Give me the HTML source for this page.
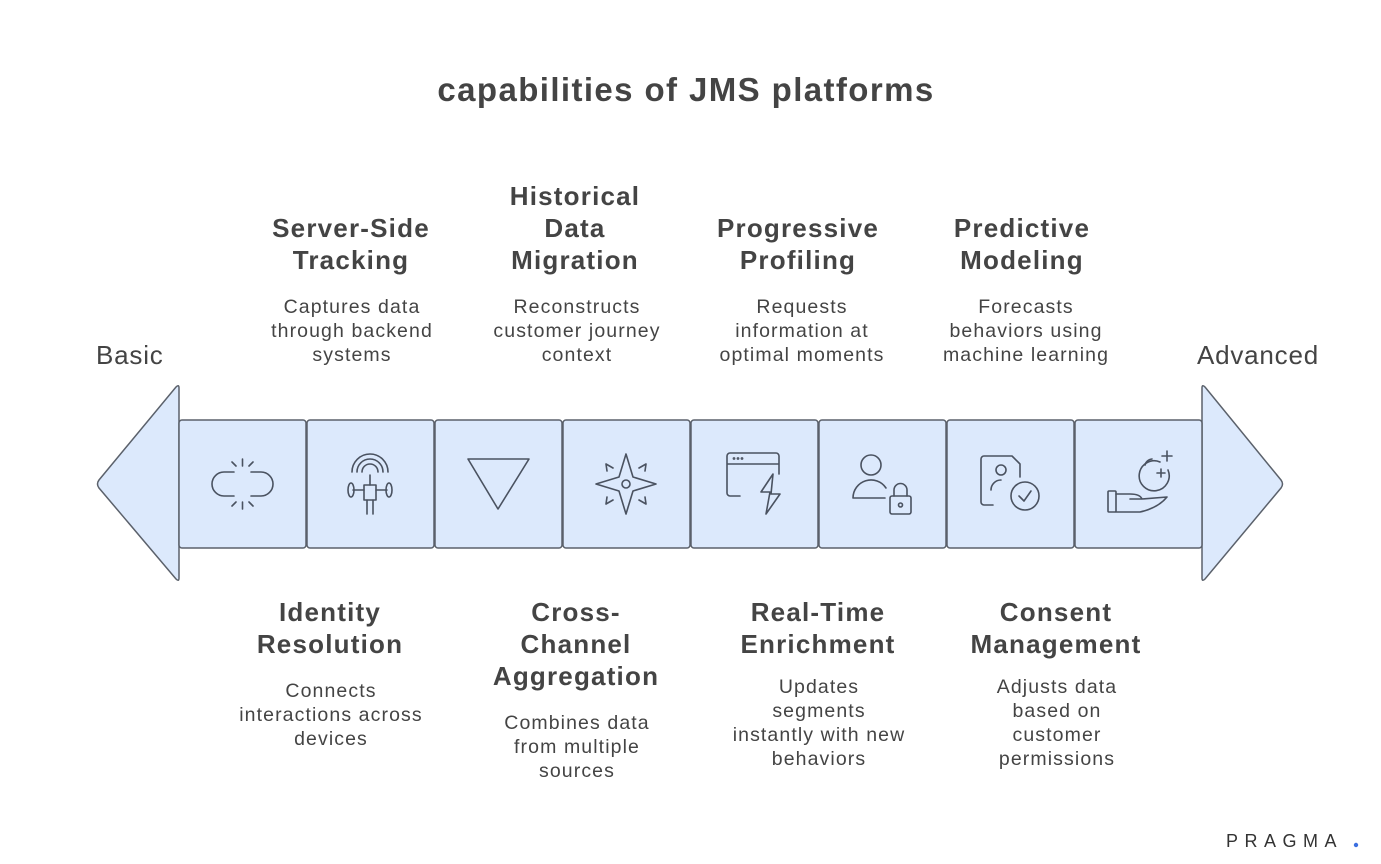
<!DOCTYPE html>
<html><head><meta charset="utf-8"><style>
html,body{margin:0;padding:0;background:#fff;}
svg{display:block;}
text{font-family:"Liberation Sans",sans-serif;fill:#444;}
.h{font-weight:bold;font-size:26px;letter-spacing:1.2px;text-anchor:middle;}
.d{font-size:19.5px;letter-spacing:1.1px;text-anchor:middle;}
.ic{fill:none;stroke:#4a5260;stroke-width:1.6;stroke-linecap:round;stroke-linejoin:round;}
</style></head><body>
<svg width="1381" height="864" viewBox="0 0 1381 864">
<text x="686" y="101" style="font-weight:bold;font-size:33px;letter-spacing:1.4px;text-anchor:middle;">capabilities of JMS platforms</text>
<text x="96" y="364" style="font-size:26px;letter-spacing:0.8px;">Basic</text>
<text x="1319" y="364" style="font-size:26px;letter-spacing:0.8px;text-anchor:end;">Advanced</text>

<path d="M179,388 Q179,384 176,387 L99,480 Q96,484 99,488 L176,579 Q179,582 179,578 Z" fill="#dce9fc" stroke="#5b616b" stroke-width="1.5"/>
<path d="M1202,388 Q1202,384 1205,387 L1281,480 Q1284,484 1281,488 L1205,579 Q1202,582 1202,578 Z" fill="#dce9fc" stroke="#5b616b" stroke-width="1.5"/>
<g fill="#dce9fc" stroke="#5b616b" stroke-width="1.5">
<rect x="179" y="420" width="127" height="128" rx="3"/>
<rect x="307" y="420" width="127" height="128" rx="3"/>
<rect x="435" y="420" width="127" height="128" rx="3"/>
<rect x="563" y="420" width="127" height="128" rx="3"/>
<rect x="691" y="420" width="127" height="128" rx="3"/>
<rect x="819" y="420" width="127" height="128" rx="3"/>
<rect x="947" y="420" width="127" height="128" rx="3"/>
<rect x="1075" y="420" width="127" height="128" rx="3"/>
</g>

<g class="ic">
<path d="M234,472 H224 A12,12 0 0 0 224,496 H234 M251,472 H261 A12,12 0 0 1 261,496 H251"/>
<path d="M242.5,459 V466 M232,462 L236,466 M253,462 L249,466 M242.5,502 V509 M232,506 L236,502 M253,506 L249,502"/>
<path d="M352,472 A18,18 0 0 1 388,472 M357,472 A13,13 0 0 1 383,472 M362,472 A8,8 0 0 1 378,472 M370,475 V485"/>
<rect x="364" y="485" width="12" height="15"/>
<path d="M364,490 H353 M376,490 H387 M367,500 V514 M373,500 V514"/>
<ellipse cx="351" cy="490" rx="3" ry="7"/><ellipse cx="389" cy="490" rx="3" ry="7"/>
<path d="M468,459 H529 L498,509 Z"/>
<path d="M626,454 L633,477 L656,484 L633,491 L626,514 L619,491 L596,484 L619,477 Z"/>
<circle cx="626" cy="484" r="4"/>
<path d="M606,464 L613,468 M606,464 L607,471 M646,464 L639,468 M646,464 L645,471 M606,504 L613,500 M606,504 L607,497 M646,504 L639,500 M646,504 L645,497"/>
<path d="M740,496 H730 A3,3 0 0 1 727,493 V456 A3,3 0 0 1 730,453 H776 A3,3 0 0 1 779,456 V474 M727,464 H779"/>
<path d="M773,474 L761,492 H770 L766,514 L780,494 H771 Z"/>
<circle cx="734" cy="458.5" r="0.6"/><circle cx="738" cy="458.5" r="0.6"/><circle cx="742" cy="458.5" r="0.6"/>
<circle cx="871" cy="465" r="10"/>
<path d="M853,498 A18,18 0 0 1 886,488 M853,498 H885"/>
<rect x="890" y="496" width="21" height="18" rx="2"/>
<path d="M894,496 V490 A6.5,6.5 0 0 1 907,490 V496"/><circle cx="900.5" cy="505" r="2"/>
<path d="M993,505 H984 A3,3 0 0 1 981,502 V459 A3,3 0 0 1 984,456 H1012 L1020,464 V477"/>
<circle cx="1001" cy="470" r="5"/><path d="M991,490 A10,10 0 0 1 1001,480"/>
<circle cx="1025" cy="496" r="14"/><path d="M1019,496 L1024,501 L1031,491"/>
<path d="M1160,462 A15,15 0 1 0 1168,470 M1145,465 A8,8 0 0 1 1152,459 M1157,473 H1165 M1161,469 V477 M1162,456 H1172 M1167,451 V461"/>
<rect x="1108" y="491" width="8" height="21" rx="1"/>
<path d="M1116,494 H1130 Q1140,494 1142,499 H1130 M1142,499 L1167,497 Q1158,508 1140,512 H1116"/>
</g>

<text class="h" x="351" y="237">Server-Side</text>
<text class="h" x="351" y="269">Tracking</text>
<text class="d" x="352" y="313">Captures data</text>
<text class="d" x="352" y="337">through backend</text>
<text class="d" x="352" y="361">systems</text>

<text class="h" x="575" y="205">Historical</text>
<text class="h" x="575" y="237">Data</text>
<text class="h" x="575" y="269">Migration</text>
<text class="d" x="577" y="313">Reconstructs</text>
<text class="d" x="577" y="337">customer journey</text>
<text class="d" x="577" y="361">context</text>

<text class="h" x="798" y="237">Progressive</text>
<text class="h" x="798" y="269">Profiling</text>
<text class="d" x="802" y="313">Requests</text>
<text class="d" x="802" y="337">information at</text>
<text class="d" x="802" y="361">optimal moments</text>

<text class="h" x="1022" y="237">Predictive</text>
<text class="h" x="1022" y="269">Modeling</text>
<text class="d" x="1026" y="313">Forecasts</text>
<text class="d" x="1026" y="337">behaviors using</text>
<text class="d" x="1026" y="361">machine learning</text>

<text class="h" x="330" y="621">Identity</text>
<text class="h" x="330" y="653">Resolution</text>
<text class="d" x="331" y="697">Connects</text>
<text class="d" x="331" y="721">interactions across</text>
<text class="d" x="331" y="745">devices</text>

<text class="h" x="576" y="621">Cross-</text>
<text class="h" x="576" y="653">Channel</text>
<text class="h" x="576" y="685">Aggregation</text>
<text class="d" x="577" y="729">Combines data</text>
<text class="d" x="577" y="753">from multiple</text>
<text class="d" x="577" y="777">sources</text>

<text class="h" x="818" y="621">Real-Time</text>
<text class="h" x="818" y="653">Enrichment</text>
<text class="d" x="819" y="693">Updates</text>
<text class="d" x="819" y="717">segments</text>
<text class="d" x="819" y="741">instantly with new</text>
<text class="d" x="819" y="765">behaviors</text>

<text class="h" x="1056" y="621">Consent</text>
<text class="h" x="1056" y="653">Management</text>
<text class="d" x="1057" y="693">Adjusts data</text>
<text class="d" x="1057" y="717">based on</text>
<text class="d" x="1057" y="741">customer</text>
<text class="d" x="1057" y="765">permissions</text>

<text x="1226" y="847" style="font-size:18px;letter-spacing:6.5px;fill:#333;">PRAGMA</text>
<circle cx="1356" cy="845" r="2.2" fill="#3b6fe0"/>
</svg>
</body></html>
